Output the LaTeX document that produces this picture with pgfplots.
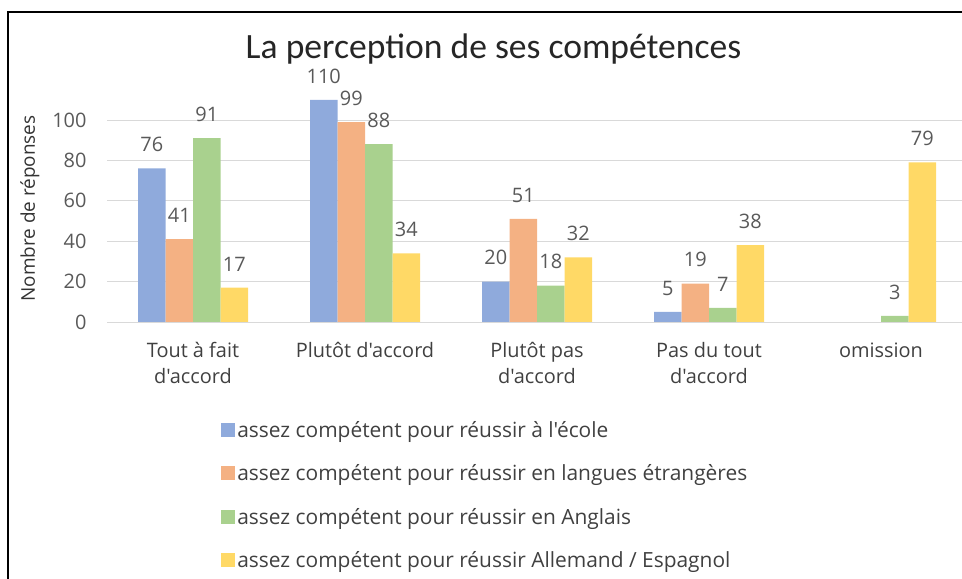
\documentclass[border=0pt]{standalone}
\usepackage{pgfplots}
\pgfplotsset{compat=1.18}
\usepackage{fontspec}
\setmainfont{Open Sans}[Ligatures=TeXOff]
\newfontfamily\titlefont{Carlito}[Ligatures=TeXOff]
\definecolor{cblue}{HTML}{8FAADC}
\definecolor{corange}{HTML}{F4B183}
\definecolor{cgreen}{HTML}{A9D18E}
\definecolor{cyellow}{HTML}{FFD966}
\begin{document}
\begin{tikzpicture}[x=1bp,y=1bp]
\useasboundingbox (0,0) rectangle (962,579);
\draw[line width=1.6bp,black] (8,-20) rectangle (1000,567);
\node[font=\titlefont\fontsize{35.7}{42}\selectfont, text=black!85, anchor=base] at (493.5,520) {La perception de ses compétences};
\node[rotate=90, font=\fontsize{19}{23}\selectfont, text=black!80] at (30,370.5) {Nombre de réponses};
\begin{axis}[
  at={(107bp,257bp)}, anchor=south west,
  scale only axis, width=855bp, height=226.24bp,
  xmin=-0.5, xmax=4.471, ymin=0, ymax=112,
  ytick={0,20,...,100},
  xtick={0,1,2,3,4},
  xticklabels={{Tout à fait\\d'accord},{Plutôt d'accord},{Plutôt pas\\d'accord},{Pas du tout\\d'accord},{omission}},
  xticklabel style={align=center, font=\fontsize{20}{25.5}\selectfont, text=black!75, yshift=-17bp},
  yticklabel style={font=\fontsize{20}{24}\selectfont, text=black!65, xshift=-17bp},
  /pgf/number format/assume math mode=true,
  ybar=0pt, bar width=27.5bp,
  ymajorgrids, grid style={color=black!15, line width=0.9bp},
  axis line style={draw=none},
  major tick length=0pt,
  clip=false,
  nodes near coords,
  every node near coord/.append style={font=\fontsize{20}{24}\selectfont, text=black!65, yshift=13bp},
  legend style={at={(axis description cs:0.13,-0.42)}, anchor=north west, draw=none, fill=none,
    font=\fontsize{21}{25}\selectfont, text=black!75, row sep=22bp, cells={anchor=west}},
  legend image code/.code={\fill[#1] (0bp,-7bp) rectangle (14bp,7bp);},
]
\addplot[fill=cblue, draw=none] coordinates {(0,76) (1,110) (2,20) (3,5)};
\addlegendentry{assez compétent pour réussir à l'école}
\addplot[fill=corange, draw=none] coordinates {(0,41) (1,99) (2,51) (3,19)};
\addlegendentry{assez compétent pour réussir en langues étrangères}
\addplot[fill=cgreen, draw=none] coordinates {(0,91) (1,88) (2,18) (3,7) (4,3)};
\addlegendentry{assez compétent pour réussir en Anglais}
\addplot[fill=cyellow, draw=none] coordinates {(0,17) (1,34) (2,32) (3,38) (4,79)};
\addlegendentry{assez compétent pour réussir Allemand / Espagnol}
\end{axis}
\end{tikzpicture}
\end{document}
